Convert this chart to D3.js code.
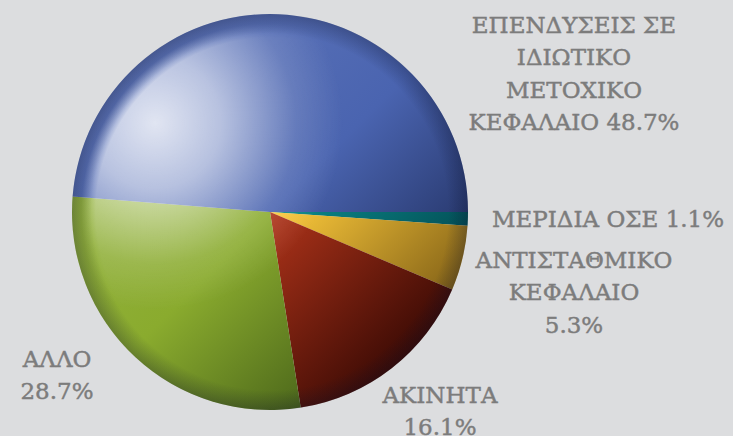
<!DOCTYPE html>
<html>
<head>
<meta charset="utf-8">
<script src="https://cdn.jsdelivr.net/npm/d3@7"></script>
<style>
body { margin: 0; background: #dcdddf; overflow: hidden; }
svg { display: block; }
.lbl { font-family: "DejaVu Serif", serif; font-size: 23px; fill: #7c7c7c; stroke: #7c7c7c; stroke-width: 0.45px; text-anchor: middle; }
</style>
</head>
<body>
<svg></svg>
<script>
// slices, clockwise from 3 o'clock
var categories = ["ΜΕΡΙΔΙΑ ΟΣΕ", "ΑΝΤΙΣΤΑΘΜΙΚΟ ΚΕΦΑΛΑΙΟ", "ΑΚΙΝΗΤΑ", "ΑΛΛΟ", "ΕΠΕΝΔΥΣΕΙΣ ΣΕ ΙΔΙΩΤΙΚΟ ΜΕΤΟΧΙΚΟ ΚΕΦΑΛΑΙΟ"];
var values = [1.1, 5.3, 16.1, 28.7, 48.7];
var labelLines = [
  ["ΜΕΡΙΔΙΑ ΟΣΕ 1.1%"],
  ["ΑΝΤΙΣΤΑΘΜΙΚΟ", "ΚΕΦΑΛΑΙΟ", "5.3%"],
  ["ΑΚΙΝΗΤΑ", "16.1%"],
  ["ΑΛΛΟ", "28.7%"],
  ["ΕΠΕΝΔΥΣΕΙΣ ΣΕ", "ΙΔΙΩΤΙΚΟ", "ΜΕΤΟΧΙΚΟ", "ΚΕΦΑΛΑΙΟ 48.7%"]
];

var baseColors = ["#0c8c8c", "#ffcc3c", "#b0341a", "#8aab2e", "#4a64b0"];
var darkColors = ["#003c46", "#7a5a14", "#3a0a04", "#3e5816", "#1c2956"];

// label anchors (first baseline)
var labelPos = [[608, 227], [574, 268], [440, 403], [57, 367], [574, 33]];
var lineH = 32.3;

var W = 733, H = 436, cx = 270, cy = 212, r = 198;

var svg = d3.select("svg").attr("width", W).attr("height", H);
var defs = svg.append("defs");

var pie = d3.pie().sort(null).value(function(d) { return d; })
    .startAngle(Math.PI / 2).endAngle(Math.PI / 2 + 2 * Math.PI);
var arc = d3.arc().innerRadius(0).outerRadius(r);

// per-slice shading, light upper-left to dark lower-right (coords relative to centre)
baseColors.forEach(function(c, i) {
  var g = defs.append("linearGradient").attr("id", "sl" + i)
      .attr("gradientUnits", "userSpaceOnUse")
      .attr("x1", -r).attr("y1", -r).attr("x2", r).attr("y2", r);
  g.append("stop").attr("offset", 0).attr("stop-color", d3.interpolateRgb(c, "#fff")(0.15));
  g.append("stop").attr("offset", 0.5).attr("stop-color", c);
  g.append("stop").attr("offset", 0.86).attr("stop-color", darkColors[i]);
  g.append("stop").attr("offset", 1).attr("stop-color", d3.interpolateRgb(darkColors[i], "#000")(0.3));
});

// highlight, soft-masked inside the rim
var hl = defs.append("radialGradient").attr("id", "hl")
    .attr("gradientUnits", "userSpaceOnUse")
    .attr("cx", -0.58 * r).attr("cy", -0.45 * r).attr("r", 0.95 * r);
hl.append("stop").attr("offset", 0).attr("stop-color", "#fff").attr("stop-opacity", 0.82);
hl.append("stop").attr("offset", 0.35).attr("stop-color", "#fff").attr("stop-opacity", 0.58);
hl.append("stop").attr("offset", 0.75).attr("stop-color", "#fff").attr("stop-opacity", 0.13);
hl.append("stop").attr("offset", 1).attr("stop-color", "#fff").attr("stop-opacity", 0);

var mg = defs.append("radialGradient").attr("id", "mg")
    .attr("gradientUnits", "userSpaceOnUse").attr("cx", 0).attr("cy", 0).attr("r", r);
mg.append("stop").attr("offset", 0.88).attr("stop-color", "#fff");
mg.append("stop").attr("offset", 0.955).attr("stop-color", "#000");
defs.append("mask").attr("id", "rimMask")
  .append("circle").attr("r", r).attr("fill", "url(#mg)");

var rim = defs.append("radialGradient").attr("id", "rim")
    .attr("gradientUnits", "userSpaceOnUse").attr("cx", 0).attr("cy", 0).attr("r", r);
rim.append("stop").attr("offset", 0.9).attr("stop-color", "#0a0f28").attr("stop-opacity", 0);
rim.append("stop").attr("offset", 1).attr("stop-color", "#0a0f28").attr("stop-opacity", 0.28);

var gPie = svg.append("g").attr("transform", "translate(" + cx + "," + cy + ")");

gPie.selectAll("path.slice")
  .data(pie(values))
  .join("path")
    .attr("class", "slice")
    .attr("d", arc)
    .attr("fill", function(d, i) { return "url(#sl" + i + ")"; });

gPie.append("circle").attr("r", r)
    .attr("fill", "url(#hl)").attr("mask", "url(#rimMask)");
gPie.append("circle").attr("r", r)
    .attr("fill", "url(#rim)");

// labels
var lab = svg.append("g").selectAll("text")
  .data(labelLines)
  .join("text")
    .attr("class", "lbl")
    .attr("x", function(d, i) { return labelPos[i][0]; })
    .attr("y", function(d, i) { return labelPos[i][1]; });

lab.selectAll("tspan")
  .data(function(d, i) { return d.map(function(t, j) { return {t: t, x: labelPos[i][0], j: j}; }); })
  .join("tspan")
    .attr("x", function(d) { return d.x; })
    .attr("dy", function(d) { return d.j ? lineH : 0; })
    .text(function(d) { return d.t; });
</script>
</body>
</html>
